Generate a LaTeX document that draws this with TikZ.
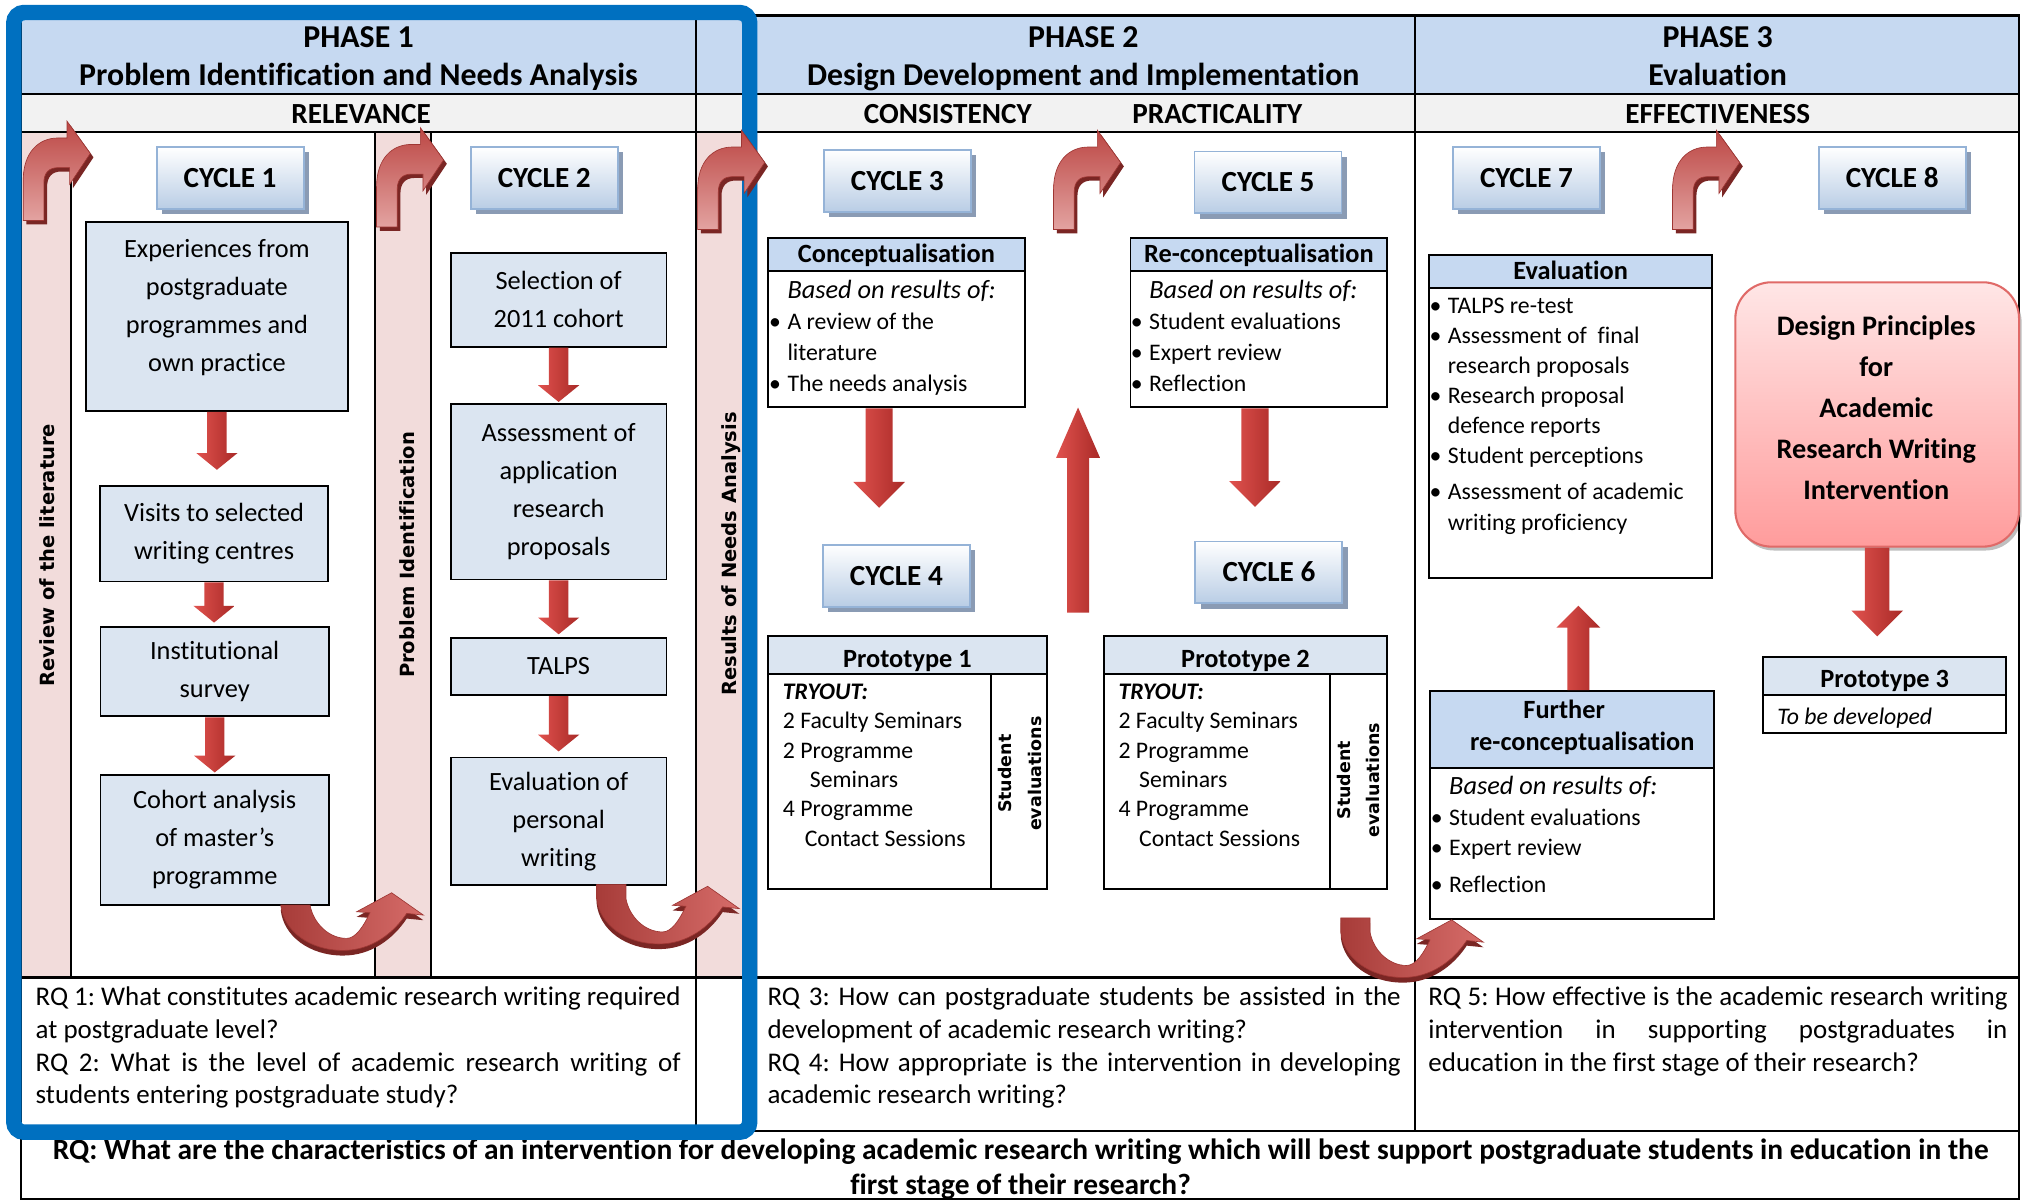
\documentclass[tikz,border=0pt]{standalone}
\usepackage{fontspec}
\setmainfont{Carlito}[Ligatures=NoCommon]
\newfontfamily\vsans{DejaVu Sans}[Ligatures=NoCommon]
\usetikzlibrary{calc,shadows}
\frenchspacing

\definecolor{hdrblue}{HTML}{C6D9F1}
\definecolor{critgray}{HTML}{F2F2F2}
\definecolor{strippink}{HTML}{F2DCDB}
\definecolor{boxblue}{HTML}{DBE5F1}
\definecolor{framblue}{HTML}{0070C0}
\definecolor{cycedge}{HTML}{95B3D7}
\definecolor{cycbot}{HTML}{B9CDE5}
\definecolor{cycshadow}{HTML}{8A9BB4}
\definecolor{arrL}{HTML}{E0524E}
\definecolor{arrM}{HTML}{D4403C}
\definecolor{arrR}{HTML}{A92A27}
\definecolor{hookTop}{HTML}{BC4744}
\definecolor{hookBot}{HTML}{E3A3A1}
\definecolor{hookDark}{HTML}{7A2624}
\definecolor{hookEdge}{HTML}{9E3633}
\definecolor{uL}{HTML}{A73C39}
\definecolor{uR}{HTML}{D66C69}
\definecolor{dpTop}{HTML}{FFE6E6}
\definecolor{dpBot}{HTML}{FF9C9C}
\definecolor{dpEdge}{HTML}{E06A68}

\newcommand\tbul{\llap{\textbullet\hspace{5bp}}}
\newcommand\based{{\fontsize{20.5}{24}\selectfont\itshape Based on results of:}}

% vertical block arrow; the shaft runs at the x of the first point
\newcommand\blockarrow[5]{%
  \path[blockfill] let \p1=(#1), \p2=(#2), \n1={sign(\y2-\y1)} in
    ({\x1-#3bp},{\y1}) -- ({\x1+#3bp},{\y1}) -- ({\x1+#3bp},{\y2-(\n1)*#5bp})
    -- ({\x1+#4bp},{\y2-(\n1)*#5bp}) -- ({\x1},{\y2}) -- ({\x1-#4bp},{\y2-(\n1)*#5bp})
    -- ({\x1-#3bp},{\y2-(\n1)*#5bp}) -- cycle;}

\tikzset{
  tline/.style={line width=1.6bp, draw=black},
  hdr/.style={font=\fontsize{24.8}{28}\selectfont\bfseries, inner sep=0, anchor=base},
  crit/.style={font=\fontsize{22.7}{26}\selectfont\bfseries, inner sep=0, anchor=base},
  striptext/.style={font=\vsans\bfseries\fontsize{15.2}{18}\selectfont, inner sep=0, rotate=90},
  cyclebox/.style={draw=cycedge, line width=1.5bp, top color=white, bottom color=cycbot,
    minimum width=114bp, minimum height=48bp, inner sep=0,
    font=\fontsize{22.7}{26}\selectfont\bfseries, text height=14.6bp, text depth=0bp,
    drop shadow={shadow xshift=4bp, shadow yshift=-4bp, fill=cycshadow, opacity=1}},
  pbox/.style={draw=black, line width=1.4bp, fill=boxblue, inner sep=0, align=center,
    font=\fontsize{20.5}{29.5}\selectfont},
  btext/.style={font=\fontsize{20.5}{29.5}\selectfont, align=center, inner sep=0},
  tbox/.style={draw=black, line width=1.4bp, fill=white, inner sep=0},
  thead/.style={draw=black, line width=1.4bp, fill=hdrblue, inner sep=0,
    font=\fontsize{20.5}{25}\selectfont\bfseries, text height=13.2bp, text depth=0bp},
  phead/.style={thead, fill=boxblue, text height=18.5bp},
  theadml/.style={draw=black, line width=1.4bp, fill=hdrblue, inner sep=0},
  theadtxt/.style={font=\fontsize{20.5}{25}\selectfont\bfseries, align=center, inner sep=0},
  tbody/.style={font=\fontsize{18.5}{24.2}\selectfont, align=left, inner sep=0, anchor=north west},
  rqtext/.style={font=\fontsize{21}{25.5}\selectfont, align=left, inner sep=0, anchor=north west},
  fqtext/.style={font=\fontsize{22.9}{27}\selectfont\bfseries, align=center, inner sep=0},
  evaltext/.style={font=\vsans\bfseries\fontsize{13.6}{23}\selectfont, align=center, inner sep=0, rotate=90},
  blockfill/.style={left color=arrL, middle color=arrM, right color=arrR},
  dpbox/.style={draw=dpEdge, line width=1.6bp, rounded corners=28bp, top color=dpTop, bottom color=dpBot,
    minimum width=220bp, minimum height=205bp, inner sep=0,
    drop shadow={shadow xshift=2bp, shadow yshift=-3bp, fill=black, opacity=0.25}},
  dptext/.style={font=\fontsize{22}{32}\selectfont\bfseries, align=center, inner sep=0},
  hook/.pic={
    \begin{scope}[shift={(2.5,3)}]
      \fill[hookDark] (18,171) -- (18,140) .. controls (18,118) and (30,107) .. (45,107)
        -- (52,107) -- (52,94) -- (70,119) -- (54,143) -- (54,130) -- (45,130)
        .. controls (38,130) and (34,134) .. (34,142) -- (34,171) -- cycle;
    \end{scope}
    \shade[top color=hookTop, bottom color=hookBot, draw=hookEdge, line width=0.5bp]
      (18,171) -- (18,140) .. controls (18,118) and (30,107) .. (45,107)
      -- (52,107) -- (52,94) -- (70,119) -- (54,143) -- (54,130) -- (45,130)
      .. controls (38,130) and (34,134) .. (34,142) -- (34,171) -- cycle;
  },
  uturn/.pic={
    \begin{scope}[shift={(0,4)}]
      \fill[hookDark] (217.7,{701.8-#1}) -- (217.7,701.8) .. controls (220,722) and (240,737) .. (266,737)
        .. controls (288,737) and (305,724) .. (315.4,708.3) -- (328.3,709.6) -- (303.7,692.3)
        -- (276.6,707) -- (286.9,707.8) .. controls (282,718) and (276,727.7) .. (268.8,727.7)
        .. controls (255,727.7) and (243,716) .. (240.4,701.8) -- (240.4,{701.8-#1}) -- cycle;
    \end{scope}
    \shade[left color=uL, right color=uR, draw=hookEdge, line width=0.5bp]
      (217.7,{701.8-#1}) -- (217.7,701.8) .. controls (220,722) and (240,737) .. (266,737)
      .. controls (288,737) and (305,724) .. (315.4,708.3) -- (328.3,709.6) -- (303.7,692.3)
      -- (276.6,707) -- (286.9,707.8) .. controls (282,718) and (276,727.7) .. (268.8,727.7)
      .. controls (255,727.7) and (243,716) .. (240.4,701.8) -- (240.4,{701.8-#1}) -- cycle;
  }
}

\begin{document}
\begin{tikzpicture}[x=1bp,y=-1bp]
\useasboundingbox (0,0) rectangle (1568,931);
\fill[white] (0,0) rectangle (1568,931);

% row and strip fills
\fill[hdrblue] (16,12) rectangle (1566,73);
\fill[critgray] (16,73) rectangle (1566,102);
\fill[strippink] (16,102) rectangle (55,758);
\fill[strippink] (291,102) rectangle (334,758);
\fill[strippink] (540,102) rectangle (588,758);

% table rules
\draw[tline] (16,12) rectangle (1566,930);
\draw[tline] (16,73) -- (1566,73);
\draw[tline] (16,102) -- (1566,102);
\draw[tline] (16,758) -- (1566,758);
\draw[tline] (16,877) -- (1566,877);
\draw[tline] (540,12) -- (540,877);
\draw[tline] (1097,12) -- (1097,877);
\draw[tline] (55,102) -- (55,758);
\draw[tline] (291,102) -- (291,758);
\draw[tline] (334,102) -- (334,758);

% phase headings
\node[hdr] (ph1) at (278,36.5) {PHASE 1};
\node[hdr] (ph1t) at (278,66.5) {Problem Identification and Needs Analysis};
\node[hdr] (ph2) at (840,36.5) {PHASE 2};
\node[hdr] (ph2t) at (840,66.5) {Design Development and Implementation};
\node[hdr] (ph3) at (1332,36.5) {PHASE 3};
\node[hdr] (ph3t) at (1332,66.5) {Evaluation};
\node[crit] (rel) at (280,95.5) {RELEVANCE};
\node[crit] (cons) at (735,95.5) {CONSISTENCY};
\node[crit] (prac) at (944,95.5) {PRACTICALITY};
\node[crit] (effe) at (1332,95.5) {EFFECTIVENESS};

% vertical strip labels
\node[striptext] (lit) at (36.3,430.5) {Review of the literature};
\node[striptext] (probid) at (315.8,430.3) {Problem Identification};
\node[striptext] (needs) at (566.7,429.6) {Results of Needs Analysis};

% cycles
\node[cyclebox] (c1) at (178.4,138) {CYCLE 1};
\node[cyclebox] (c2) at (422,138) {CYCLE 2};
\node[cyclebox] (c3) at (695.8,140.2) {CYCLE 3};
\node[cyclebox] (c4) at (695.1,446.5) {CYCLE 4};
\node[cyclebox] (c5) at (983.3,141.5) {CYCLE 5};
\node[cyclebox] (c6) at (984,443.9) {CYCLE 6};
\node[cyclebox] (c7) at (1183.7,138) {CYCLE 7};
\node[cyclebox] (c8) at (1467.3,138) {CYCLE 8};

% phase 1 steps
\node[pbox, minimum width=203.4bp, minimum height=146.7bp] (exp) at (168.2,245.3) {};
\node[btext] (exp-t) at (168.2,238.5) {Experiences from\\postgraduate\\programmes and\\own practice};
\node[pbox, minimum width=177bp, minimum height=74bp] (vis) at (166,414) {Visits to selected\\writing centres};
\node[pbox, minimum width=177bp, minimum height=69bp] (inst) at (166.5,521) {Institutional\\survey};
\node[pbox, minimum width=177bp, minimum height=101bp] (coh) at (166.5,651.2) {Cohort analysis\\of master’s\\programme};
\node[pbox, minimum width=167.3bp, minimum height=73bp] (sel) at (433.2,232.4) {Selection of\\2011 cohort};
\node[pbox, minimum width=167.3bp, minimum height=136bp] (asm) at (433.2,381.4) {Assessment of\\application\\research\\proposals};
\node[pbox, minimum width=167.3bp, minimum height=44.5bp] (talps) at (433.2,516.8) {TALPS};
\node[pbox, minimum width=167.3bp, minimum height=99bp] (evalp) at (433.2,636.9) {Evaluation of\\personal\\writing};

\blockarrow{exp.south}{$(vis.north)+(0,-12)$}{7.5}{16}{13}
\blockarrow{vis.south}{$(inst.north)+(0,-3)$}{7.5}{16}{13}
\blockarrow{inst.south}{$(coh.north)+(0,-1)$}{7.5}{16}{13}
\blockarrow{sel.south}{$(asm.north)+(0,-1)$}{7.5}{16}{13}
\blockarrow{asm.south}{$(talps.north)+(0,-2)$}{7.5}{16}{13}
\blockarrow{talps.south}{$(evalp.north)+(0,-4)$}{7.5}{16}{13}

% phase 2
\node[tbox, minimum width=199.2bp, minimum height=131.6bp] (concept) at (695.1,250.1) {};
\node[thead, minimum width=199.2bp, minimum height=25.6bp, anchor=north] (concept-h) at (concept.north) {Conceptualisation};
\node[tbody] (concept-b) at (610.5,214.3) {\strut\based\\\tbul A review of the\\literature\\\tbul The needs analysis};

\node[tbox, minimum width=199.2bp, minimum height=131.6bp] (recon) at (976.2,250.1) {};
\node[thead, minimum width=199.2bp, minimum height=25.6bp, anchor=north] (recon-h) at (recon.north) {Re-conceptualisation};
\node[tbody] (recon-b) at (891,214.3) {\strut\based\\\tbul Student evaluations\\\tbul Expert review\\\tbul Reflection};

\node[tbox, minimum width=216.3bp, minimum height=195.8bp] (proto1) at (703.65,591.4) {};
\node[phead, minimum width=216.3bp, minimum height=29.4bp, anchor=north] (proto1-h) at (proto1.north) {Prototype 1};
\draw[line width=1.4bp] (768.3,522.9) -- (768.3,689.3);
\node[tbody, font=\fontsize{18.5}{22.9}\selectfont] (proto1-b) at (606.9,526) {\strut\textbf{\textit{TRYOUT:}}\\2 Faculty Seminars\\2 Programme\\\hspace*{21bp}Seminars\\4 Programme\\\hspace*{17bp}Contact Sessions};
\node[evaltext] (proto1-e) at (791,600) {Student\\evaluations};

\node[tbox, minimum width=219.9bp, minimum height=195.8bp] (proto2) at (965.85,591.4) {};
\node[phead, minimum width=219.9bp, minimum height=29.4bp, anchor=north] (proto2-h) at (proto2.north) {Prototype 2};
\draw[line width=1.4bp] (1031.6,522.9) -- (1031.6,689.3);
\node[tbody, font=\fontsize{18.5}{22.9}\selectfont] (proto2-b) at (867.2,526) {\strut\textbf{\textit{TRYOUT:}}\\2 Faculty Seminars\\2 Programme\\\hspace*{16bp}Seminars\\4 Programme\\\hspace*{16bp}Contact Sessions};
\node[evaltext] (proto2-e) at (1053.5,605) {Student\\evaluations};

\blockarrow{$(concept.south)+(-13.4,0)$}{$(c4.north)+(0,-28)$}{10.5}{20}{20}
\blockarrow{$(recon.south)+(-3,0)$}{$(c6.north)+(0,-26)$}{10.5}{20}{20}
\coordinate (upfoot) at (836,475);
\coordinate (uphead) at (836,316);
\blockarrow{upfoot}{uphead}{8.5}{17}{39}

% phase 3
\node[tbox, minimum width=219.6bp, minimum height=250.5bp] (evalb) at (1218,322.75) {};
\node[thead, minimum width=219.6bp, minimum height=25.8bp, anchor=north] (evalb-h) at (evalb.north) {Evaluation};
\node[tbody, font=\fontsize{18.5}{23.4}\selectfont] (evalb-b) at (1122.6,226.7) {\strut\tbul TALPS re-test\\\tbul Assessment of\ \ final\\research proposals\\\tbul Research proposal\\defence reports\\\tbul Student perceptions\\[4.6bp]\tbul Assessment of academic\\writing proficiency};

\node[tbox, minimum width=220bp, minimum height=176.8bp] (further) at (1219,624.3) {};
\node[theadml, minimum width=220bp, minimum height=59.7bp, anchor=north] (further-h) at (further.north) {};
\node[theadtxt] (further-ht) at (1219,564) {Further\hspace*{12bp}\\\hspace*{16bp}re-conceptualisation};
\node[tbody, font=\fontsize{18.5}{24}\selectfont] (further-b) at (1123.6,599) {\strut\based\\\tbul Student evaluations\\\tbul Expert review\\[4.4bp]\tbul Reflection};

\node[dpbox] (design) at (1455.7,321.4) {};
\node[dptext] (design-t) at (1455,316) {Design Principles\\for\\Academic\\Research Writing\\Intervention};

\node[tbox, minimum width=188.1bp, minimum height=59bp] (proto3) at (1461.45,538.7) {};
\node[phead, minimum width=188.1bp, minimum height=29.8bp, anchor=north] (proto3-h) at (proto3.north) {Prototype 3};
\node[tbody, anchor=base west] (proto3-b) at (1378,562) {\textit{To be developed}};

\blockarrow{$(further.north)+(5,0)$}{$(evalb.south)+(0,21)$}{8.5}{17}{17}
\blockarrow{design.south}{$(proto3.north)+(0,-15)$}{9.5}{20}{20}

% research questions
\node[rqtext] (rq12) at (27.5,761.85) {\strut\makebox[500bp][s]{RQ 1: What constitutes academic research writing required}\\at postgraduate level?\\\makebox[500bp][s]{RQ 2: What is the level of academic research writing of}\\students entering postgraduate study?};
\node[rqtext] (rq34) at (595,761.85) {\strut\makebox[491bp][s]{RQ 3: How can postgraduate students be assisted in the}\\development of academic research writing?\\\makebox[491bp][s]{RQ 4: How appropriate is the intervention in developing}\\academic research writing?};
\node[rqtext] (rq5) at (1107.5,761.85) {\strut\makebox[449bp][s]{RQ 5: How effective is the academic research writing}\\\makebox[449bp][s]{intervention in supporting postgraduates in}\\education in the first stage of their research?};
\node[fqtext] (rqall) at (791.5,906.5) {RQ: What are the characteristics of an intervention for developing academic research writing which will best support postgraduate students in education in the\\first stage of their research?};

% phase 1 frame
\draw[line width=12bp, framblue, rounded corners=8bp] (10.7,9.7) rectangle (581.4,878);

% cycle-to-cycle arrows
\pic at (0,0) {hook};
\pic at (274,5) {hook};
\pic at (523,7) {hook};
\pic at (799,7) {hook};
\pic at (1279,7) {hook};
\pic at (0,0) {uturn=0};
\pic at (245,-5) {uturn=11};
\pic at (822,21) {uturn=11};
\end{tikzpicture}
\end{document}
